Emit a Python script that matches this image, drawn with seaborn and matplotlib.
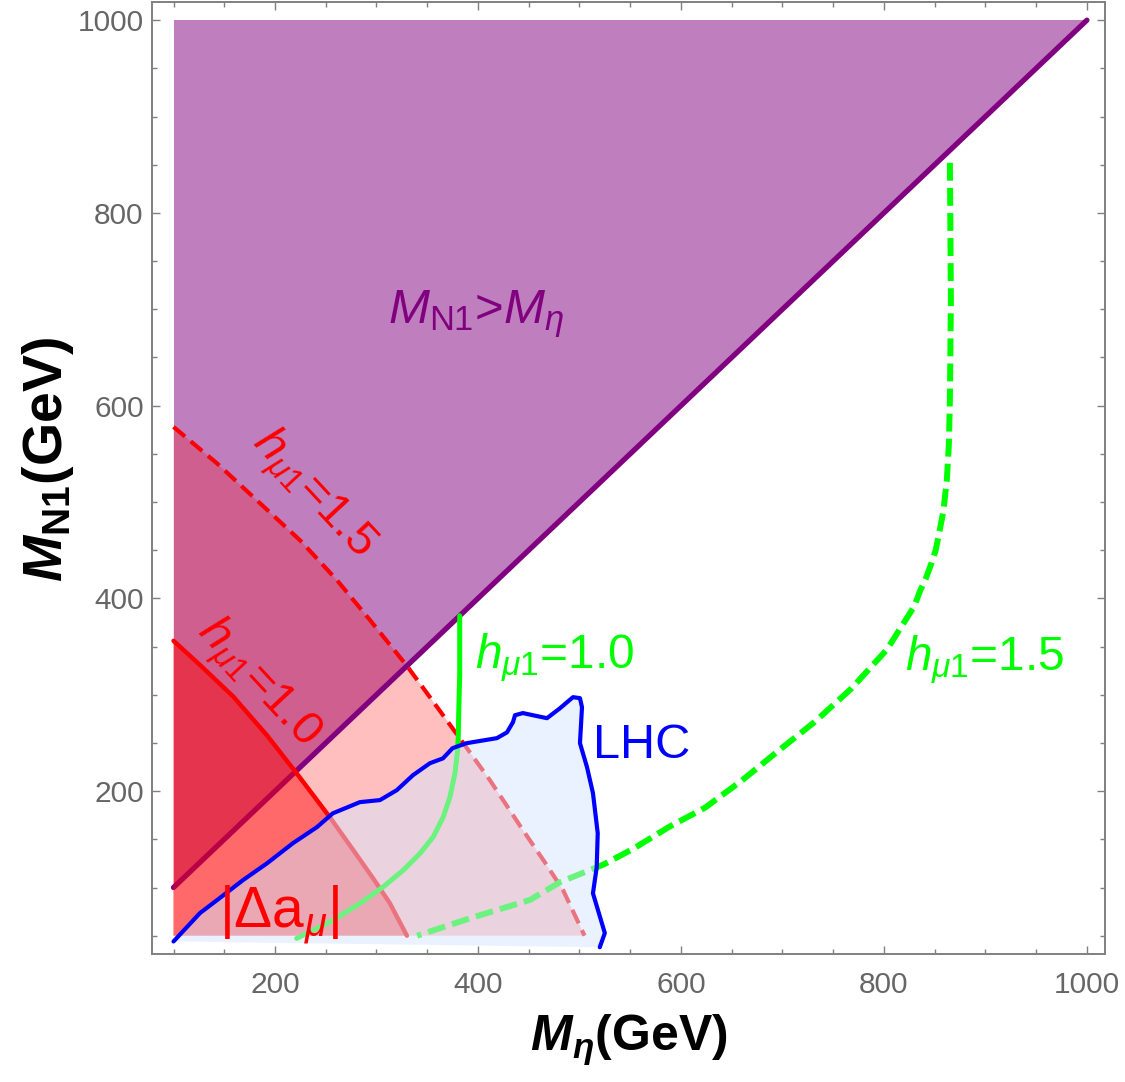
import numpy as np
import pandas as pd
import seaborn as sns
import matplotlib.pyplot as plt
from matplotlib.ticker import MultipleLocator

# curves (GeV)
diag_x = [100, 1000]
diag_y = [100, 1000]

# |Delta a_mu| contours
red15_x = [100, 143, 185, 225, 261, 294, 330, 353, 382, 412, 444, 466, 484, 505]
red15_y = [578, 540, 499, 460, 419, 377, 330, 297, 255, 211, 160, 126, 97, 50]
red10_x = [100, 126, 159, 192, 221, 254, 277, 297, 313, 330]
red10_y = [356, 331, 298, 258, 219, 173, 139, 109, 84, 50]

# other constraint at h = 1.0 / 1.5
green10_x = [382, 382, 381, 380.6, 379.6, 377.3, 372.4, 365.8, 356, 342.9, 326.4,
             306.7, 283.7, 257.4, 237.7, 221.4]
green10_y = [382, 320, 280, 256.3, 239.1, 218.4, 194.1, 173.3, 152.6, 135.4, 118,
             100.7, 83.5, 66.2, 55.8, 47.2]
green15_x = [865, 866, 865, 864, 862, 858.5, 855, 851, 846, 841, 835.5, 830, 821, 803,
             767.5, 731.5, 695.6, 660, 624, 588, 552.7, 524, 481, 451, 395, 340]
green15_y = [852, 709, 606, 560, 523, 490, 471, 450, 434, 420, 407.5, 392, 377, 347,
             306, 271.6, 241.5, 211, 183, 162.7, 140, 124, 105.6, 87, 69, 50]

# LHC exclusion boundary
lhc_x = [100, 126, 143, 168.5, 192, 217.7, 241.4, 257, 283.7, 303.4, 320, 336, 352.7,
         365.5, 375, 389, 418.7, 428.6, 434.5, 436.5, 444.3, 454, 468, 480.8, 493.6,
         500.5, 502.5, 500.5, 507.4, 513.3, 518, 517, 513.3, 525, 520]
lhc_y = [44, 73.4, 87, 107.7, 125, 146, 162.7, 177, 188.6, 190.7, 201, 216.6, 229,
         234, 244.6, 249.8, 255, 261, 271.6, 278.8, 281, 278.8, 275.7, 286, 297.5,
         296.5, 287, 249.8, 225, 198, 156.4, 121, 94, 52.7, 38]

y_floor = 50

sns.set_theme(style='ticks')
plt.rcParams['font.family'] = ['Liberation Sans', 'DejaVu Sans']
plt.rcParams['mathtext.fontset'] = 'custom'
plt.rcParams['mathtext.rm'] = 'Liberation Sans'
plt.rcParams['mathtext.it'] = 'Liberation Sans:italic'
plt.rcParams['mathtext.bf'] = 'Liberation Sans:bold'
plt.rcParams['mathtext.sf'] = 'Liberation Sans:bold:italic'

fig = plt.figure(figsize=(11.25, 10.82), dpi=100)
ax = fig.add_axes([0.1351, 0.1183, 0.847, 0.8797])

purple = '#800080'
red = '#FF0000'
green = '#00FF00'
blue = '#0000FF'

# M_N1 > M_eta region
ax.fill([100, 100, 1000], [100, 1000, 1000], color=purple, alpha=0.5, lw=0, zorder=1)
# outer |Delta a_mu| band
ax.fill(red15_x + [100], red15_y + [y_floor], color=red, alpha=0.25, lw=0, zorder=2)
sns.lineplot(x=diag_x, y=diag_y, color=purple, lw=3.8, ax=ax, zorder=3)
# inner |Delta a_mu| band
ax.fill(red10_x + [100], red10_y + [y_floor], color=red, alpha=0.45, lw=0, zorder=4)

sns.lineplot(x=red15_x, y=red15_y, sort=False, estimator=None, color=red, lw=3,
             linestyle=(0, (3.6, 1.8)), ax=ax, zorder=5)
sns.lineplot(x=red10_x, y=red10_y, sort=False, estimator=None, color=red, lw=3.2,
             ax=ax, zorder=5)
sns.lineplot(x=green10_x, y=green10_y, sort=False, estimator=None, color=green, lw=3.6,
             ax=ax, zorder=5)
sns.lineplot(x=green15_x, y=green15_y, sort=False, estimator=None, color=green, lw=4.3,
             linestyle=(0, (3, 1.2)), ax=ax, zorder=5)

# LHC region washes over the curves beneath it
ax.fill(lhc_x + [100], lhc_y + [44], color='#D7E7FF', alpha=0.5, lw=0, zorder=6)
sns.lineplot(x=lhc_x, y=lhc_y, sort=False, estimator=None, color=blue, lw=3,
             ax=ax, zorder=7)

# annotations
ax.text(311, 686, r'$M_{\mathrm{N1}}$>$M_{\eta}$', color=purple, fontsize=35.5,
        ha='left', va='baseline', zorder=8)
ax.text(237, 508, r'$h_{\mu\mathrm{1}}$=1.5', color=red, fontsize=34, rotation=-47,
        rotation_mode='anchor', ha='center', va='center', zorder=8)
ax.text(183, 312, r'$h_{\mu\mathrm{1}}$=1.0', color=red, fontsize=34, rotation=-47,
        rotation_mode='anchor', ha='center', va='center', zorder=8)
ax.text(397, 328, r'$h_{\mu\mathrm{1}}$=1.0', color=green, fontsize=34.5,
        ha='left', va='baseline', zorder=8)
ax.text(821, 326, r'$h_{\mu\mathrm{1}}$=1.5', color=green, fontsize=34.5,
        ha='left', va='baseline', zorder=8)
ax.text(513, 234, 'LHC', color=blue, fontsize=35, ha='left', va='baseline', zorder=8)
ax.text(145, 59, r'|Δa$_{\mu}$|', color=red, fontsize=41, ha='left', va='baseline',
        zorder=8)

ax.set_xlim(78.8, 1017.7)
ax.set_ylim(31, 1018.7)
ax.xaxis.set_major_locator(MultipleLocator(200))
ax.xaxis.set_minor_locator(MultipleLocator(50))
ax.yaxis.set_major_locator(MultipleLocator(200))
ax.yaxis.set_minor_locator(MultipleLocator(50))
ax.set_xticks([200, 400, 600, 800, 1000])
ax.set_yticks([200, 400, 600, 800, 1000])

ax.tick_params(which='both', direction='in', top=True, right=True, color='#808080',
               labelcolor='#666666', labelsize=21.5, width=1)
ax.tick_params(which='major', length=6)
ax.tick_params(which='minor', length=3.5)
ax.tick_params(axis='x', pad=12)
ax.tick_params(axis='y', pad=6)
for s in ax.spines.values():
    s.set_color('#808080')
    s.set_linewidth(1.4)

ax.set_xlabel(r'$\mathsf{M}_{\mathsf{\eta}}$(GeV)', fontsize=36, fontweight='bold',
              color='black', labelpad=10)
ax.set_ylabel(r'$\mathsf{M}_{\mathbf{N1}}$(GeV)', fontsize=40, fontweight='bold',
              color='black', labelpad=0)
ax.yaxis.set_label_coords(-0.08, 0.52)

fig.savefig('out.png', dpi=100)
